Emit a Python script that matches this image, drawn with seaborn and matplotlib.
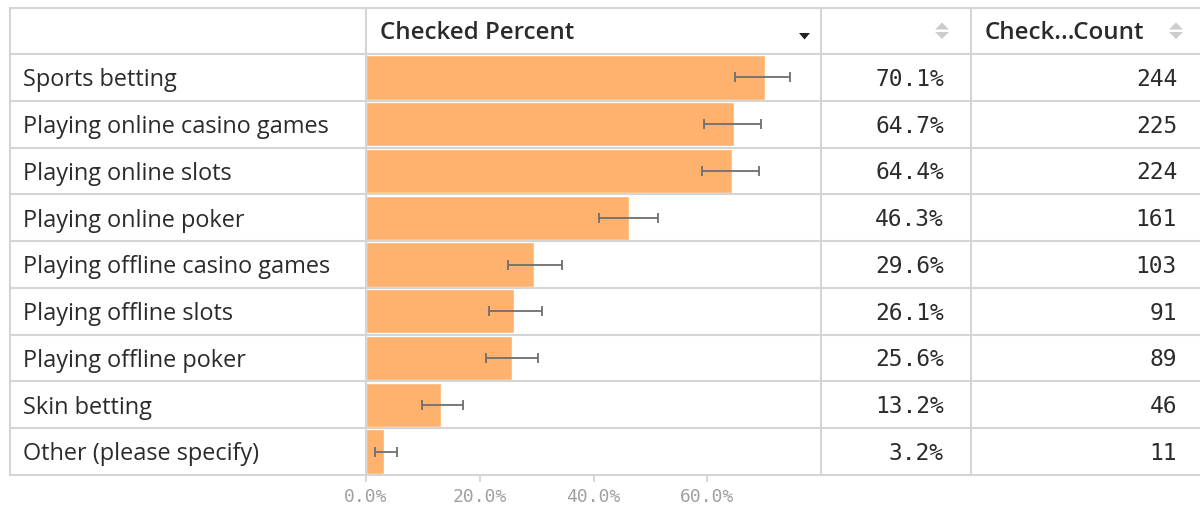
import matplotlib
matplotlib.use("Agg")
import matplotlib.pyplot as plt
import seaborn as sns
import pandas as pd
from matplotlib.transforms import blended_transform_factory
from matplotlib.lines import Line2D
from matplotlib.patches import Polygon

categories = [
    "Sports betting",
    "Playing online casino games",
    "Playing online slots",
    "Playing online poker",
    "Playing offline casino games",
    "Playing offline slots",
    "Playing offline poker",
    "Skin betting",
    "Other (please specify)",
]
checked_percent = [70.1, 64.7, 64.4, 46.3, 29.6, 26.1, 25.6, 13.2, 3.2]
ci_low = [64.9, 59.4, 59.1, 40.9, 25.0, 21.6, 21.1, 9.8, 1.6]
ci_high = [74.5, 69.4, 69.1, 51.3, 34.4, 30.9, 30.2, 17.0, 5.4]
checked_count = [244, 225, 224, 161, 103, 91, 89, 46, 11]
header_percent = "Checked Percent"
header_count = "Check...Count"
tick_values = [0, 20, 40, 60]

W, H = 1200, 506
sns.set_style("white")
plt.rcParams["font.family"] = ["Open Sans", "DejaVu Sans"]

fig = plt.figure(figsize=(W / 100, H / 100), dpi=100)


def fx(px):
    return px / W


def fy(py):
    return 1 - py / H


ax = fig.add_axes([fx(366), fy(476), fx(821) - fx(366), fy(55) - fy(476)])
df = pd.DataFrame({"category": categories, "pct": checked_percent})
sns.barplot(data=df, x="pct", y="category", order=categories, color="#FFB26E",
            saturation=1, width=0.95, errorbar=None, ax=ax, zorder=2)
lo = [p - l for p, l in zip(checked_percent, ci_low)]
hi = [h - p for p, h in zip(checked_percent, ci_high)]
ax.errorbar(checked_percent, range(len(categories)), xerr=[lo, hi], fmt="none",
            ecolor="#6e6e6e", elinewidth=1.3, capsize=3.5, capthick=1.3, zorder=3)
ax.set_xlim(0, 80)
ax.set_ylim(len(categories) - 0.5, -0.5)
for s in ax.spines.values():
    s.set_visible(False)
ax.set_xlabel("")
ax.set_ylabel("")
ax.set_yticks([])
ax.set_xticks(tick_values)
ax.set_xticklabels([f"{v:.1f}%" for v in tick_values], color="#a0a0a0",
                   fontfamily="DejaVu Sans Mono", fontsize=13)
ax.tick_params(axis="x", length=5, width=1.2, color="#d0d0d0", pad=4, bottom=True)
ax.axvline(0, color="#c8c8c8", lw=1.5, zorder=4)

line_c = "#d5d5d5"
trans = blended_transform_factory(fig.transFigure, ax.transData)
# row lines
for k in range(len(categories) + 1):
    fig.add_artist(Line2D([fx(10), fx(1200)], [k - 0.5, k - 0.5], transform=trans,
                          color=line_c, lw=1.5, zorder=1))
# top line
fig.add_artist(Line2D([fx(10), fx(1200)], [fy(9), fy(9)], transform=fig.transFigure,
                      color=line_c, lw=1.5))
# vertical lines
for px in [10, 366, 821, 971]:
    fig.add_artist(Line2D([fx(px), fx(px)], [fy(9), fy(476)], transform=fig.transFigure,
                          color=line_c, lw=1.5, zorder=1))

text_c = "#2b2b2b"
dy = 0.04
for i, (cat, p, c) in enumerate(zip(categories, checked_percent, checked_count)):
    ax.text(fx(23), i + dy, cat, transform=trans, ha="left", va="center",
            fontsize=16.9, color=text_c)
    ax.text(fx(944), i + 0.02, f"{p:.1f}%", transform=trans, ha="right", va="center",
            fontsize=16.5, color=text_c, fontfamily="DejaVu Sans Mono")
    ax.text(fx(1177), i + 0.02, f"{c}", transform=trans, ha="right", va="center",
            fontsize=16.5, color=text_c, fontfamily="DejaVu Sans Mono")

fig.text(fx(380), fy(33.5), header_percent, ha="left", va="center", fontsize=17.4,
         fontweight="semibold", color=text_c)
fig.text(fx(985), fy(33.5), header_count, ha="left", va="center", fontsize=17.4,
         fontweight="semibold", color=text_c)


def tri(pts, color):
    fig.add_artist(Polygon([(fx(x), fy(y)) for x, y in pts], closed=True,
                           transform=fig.transFigure, facecolor=color, edgecolor="none"))


# sort / dropdown icons
tri([(799, 34), (810, 34), (804.5, 40.5)], "#222222")
for px in [942, 1176]:
    tri([(px - 7, 30.5), (px + 7, 30.5), (px, 23.5)], "#cccccc")
    tri([(px - 7, 33), (px + 7, 33), (px, 40)], "#cccccc")

fig.savefig("out.png", dpi=100)
